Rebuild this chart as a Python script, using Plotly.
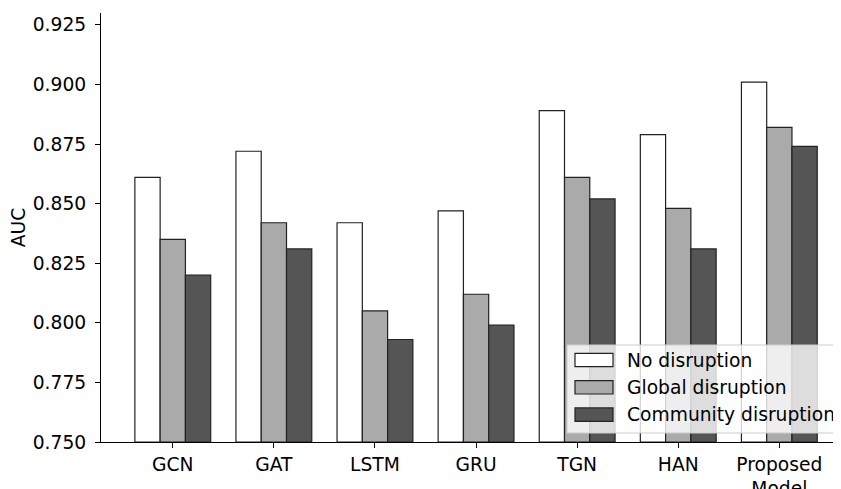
import plotly.graph_objects as go

models = ["GCN", "GAT", "LSTM", "GRU", "TGN", "HAN", "Proposed<br>Model"]
no_disruption = [0.861, 0.872, 0.842, 0.847, 0.889, 0.879, 0.901]
global_disruption = [0.835, 0.842, 0.805, 0.812, 0.861, 0.848, 0.882]
community_disruption = [0.820, 0.831, 0.793, 0.799, 0.852, 0.831, 0.874]
series_names = ["No disruption", "Global disruption", "Community disruption"]
series_colors = ["#ffffff", "#aaaaaa", "#555555"]
y_ticks = [0.750, 0.775, 0.800, 0.825, 0.850, 0.875, 0.900, 0.925]
base_value = 0.75

FS = 18.7
OFF = 8  # page body margin
W, H = 841 - OFF, 489 - OFF
L, R, T, B = 101 - OFF, 0, 13 - OFF, 47
PW, PH = W - L - R, H - T - B


def px2x(px):  # window pixel -> paper
    return (px - OFF - L) / PW


def px2y(py):
    return (H - B - (py - OFF)) / PH


fig = go.Figure()
for name, vals, col in zip(series_names,
                           [no_disruption, global_disruption, community_disruption],
                           series_colors):
    fig.add_trace(go.Bar(
        x=models, y=[v - base_value for v in vals], base=base_value, name=name,
        marker=dict(color=col, line=dict(color="#222222", width=1.2)),
        showlegend=False,
    ))

# matplotlib-like legend
shapes = [dict(type="rect", xref="paper", yref="paper",
               x0=px2x(567), x1=px2x(870), y0=px2y(433), y1=px2y(345),
               fillcolor="rgba(255,255,255,0.8)", line=dict(color="#cccccc", width=1),
               layer="above")]
annotations = []
for i, (name, col) in enumerate(zip(series_names, series_colors)):
    cy = 360 + i * 27.3
    shapes.append(dict(type="rect", xref="paper", yref="paper",
                       x0=px2x(575), x1=px2x(613), y0=px2y(cy + 6.7), y1=px2y(cy - 6.7),
                       fillcolor=col, line=dict(color="#222222", width=1.2), layer="above"))
    annotations.append(dict(xref="paper", yref="paper", x=px2x(625), y=px2y(cy),
                            xanchor="left", yanchor="middle", text=name, showarrow=False,
                            font=dict(size=FS, color="black")))

fig.update_layout(
    width=W, height=H,
    margin=dict(l=L, r=R, t=T, b=B, autoexpand=False),
    paper_bgcolor="white", plot_bgcolor="white",
    barmode="group", bargap=0.25, bargroupgap=0,
    font=dict(family="DejaVu Sans", size=FS, color="black"),
    showlegend=False,
    shapes=shapes, annotations=annotations,
)
fig.update_xaxes(
    type="category", range=[-0.71, 6.61], automargin=False,
    showline=True, linecolor="black", linewidth=1.2,
    ticks="outside", ticklen=5, tickcolor="black",
    showgrid=False, zeroline=False,
)
fig.update_yaxes(
    range=[0.75, 0.93], automargin=False,
    tickvals=y_ticks, ticktext=[f"{v:.3f}" for v in y_ticks],
    showline=True, linecolor="black", linewidth=1.2,
    ticks="outside", ticklen=5, tickcolor="black",
    ticklabelstandoff=5,
    showgrid=False, zeroline=False,
    title=dict(text="AUC", font=dict(size=FS), standoff=8),
)
fig.write_html("out.html")
